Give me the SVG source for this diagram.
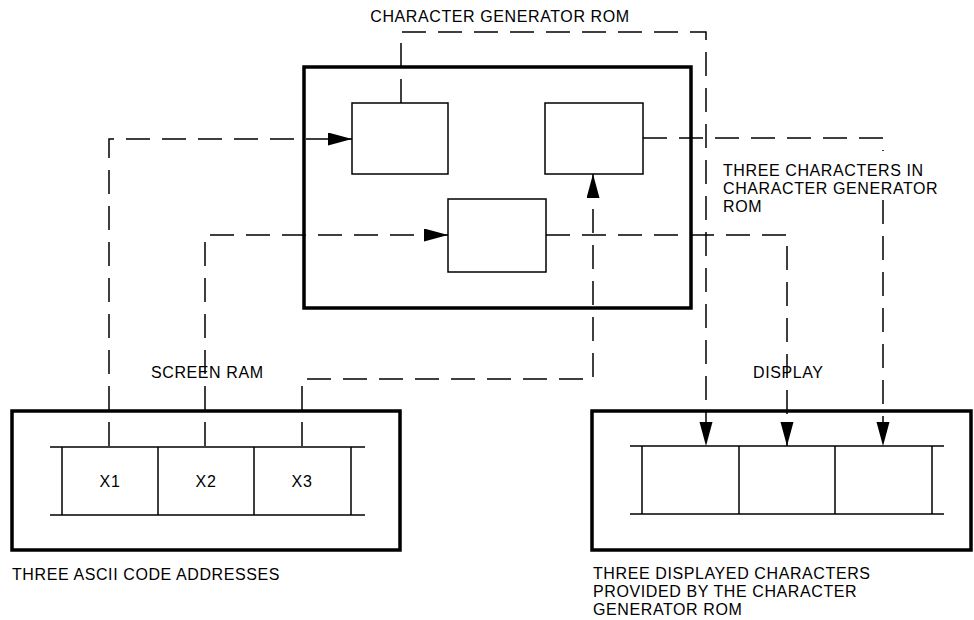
<svg xmlns="http://www.w3.org/2000/svg" width="974" height="620" viewBox="0 0 974 620">
<style>
  .outer { fill: none; stroke: #000; stroke-width: 3.5; }
  .inner { fill: #fff; stroke: #000; stroke-width: 1.5; }
  .cell { fill: none; stroke: #000; stroke-width: 1.5; }
  .conn { fill: none; stroke: #000; stroke-width: 1.5; stroke-dasharray: 24 12; }
  .lbl { font-family: "Liberation Sans", Arial, Helvetica, sans-serif; font-size: 16px; letter-spacing: 0.6px; fill: #000; }
</style>
<defs>
  <marker id="arr" markerUnits="userSpaceOnUse" markerWidth="26" markerHeight="14" refX="24" refY="6.5" orient="auto">
    <path d="M0,0 L24,6.5 L0,13 Z" fill="#000"/>
  </marker>
</defs>
<rect width="974" height="620" fill="#fff"/>

<g id="rom">
  <rect class="outer" x="304" y="67" width="387" height="241"/>
  <text class="lbl" x="500" y="22" text-anchor="middle">CHARACTER GENERATOR ROM</text>
</g>
<g id="rom-char-a"><rect class="inner" x="352" y="103" width="96" height="71"/></g>
<g id="rom-char-b"><rect class="inner" x="545" y="103" width="98" height="71"/></g>
<g id="rom-char-c"><rect class="inner" x="448" y="199" width="98" height="73"/></g>
<g id="rom-note">
  <text class="lbl" x="723" y="176">THREE CHARACTERS IN</text>
  <text class="lbl" x="723" y="194">CHARACTER GENERATOR</text>
  <text class="lbl" x="723" y="212">ROM</text>
</g>

<g id="connectors">
  <path class="conn" d="M401,103 V32 H706 V446" marker-end="url(#arr)"/>
  <path class="conn" d="M109,446 V139 H352" marker-end="url(#arr)"/>
  <path class="conn" d="M205,446 V235 H448" marker-end="url(#arr)"/>
  <path class="conn" d="M302,446 V379 H593 V174" marker-end="url(#arr)"/>
  <path class="conn" d="M643,138 H883 V151"/>
  <path class="conn" d="M883,200 V446" marker-end="url(#arr)"/>
  <path class="conn" d="M546,235 H787 V446" marker-end="url(#arr)"/>
</g>

<g id="screen-ram">
  <rect class="outer" x="12" y="411" width="388" height="139"/>
  <text class="lbl" x="151" y="378">SCREEN RAM</text>
  <path class="cell" d="M50,447 H365 M50,515 H365 M62,447 V515 M158,447 V515 M254,447 V515 M351,447 V515"/>
  <text class="lbl" x="110" y="487" text-anchor="middle">X1</text>
  <text class="lbl" x="206" y="487" text-anchor="middle">X2</text>
  <text class="lbl" x="302" y="487" text-anchor="middle">X3</text>
  <text class="lbl" x="12" y="580">THREE ASCII CODE ADDRESSES</text>
</g>

<g id="display">
  <rect class="outer" x="592" y="411" width="379" height="139"/>
  <text class="lbl" x="753" y="378">DISPLAY</text>
  <path class="cell" d="M630,446 H944 M630,514 H944 M642,446 V514 M739,446 V514 M835,446 V514 M932,446 V514"/>
  <text class="lbl" x="593" y="579">THREE DISPLAYED CHARACTERS</text>
  <text class="lbl" x="593" y="597">PROVIDED BY THE CHARACTER</text>
  <text class="lbl" x="593" y="615">GENERATOR ROM</text>
</g>
</svg>
